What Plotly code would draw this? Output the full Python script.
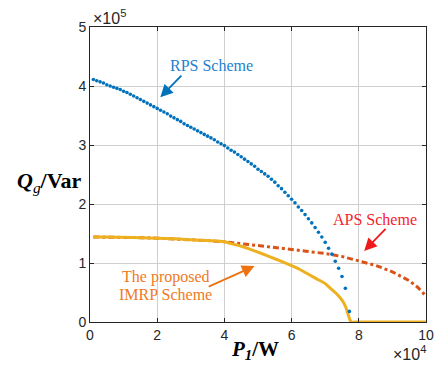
import plotly.graph_objects as go

# Scale factors shown as axis multipliers (x10^4 W, x10^5 Var)
P_SCALE = 1e4
Q_SCALE = 1e5

# RPS scheme (dotted samples), P in 1e4 W, Q in 1e5 Var
rps_p = [0.1, 0.2, 0.3, 0.4, 0.5, 0.6, 0.7, 0.8, 0.9, 1.0,
         1.1, 1.2, 1.3, 1.4, 1.5, 1.6, 1.7, 1.8, 1.9, 2.0,
         2.1, 2.2, 2.3, 2.4, 2.5, 2.6, 2.7, 2.8, 2.9, 3.0,
         3.1, 3.2, 3.3, 3.4, 3.5, 3.6, 3.7, 3.8, 3.9, 4.0,
         4.1, 4.2, 4.3, 4.4, 4.5, 4.6, 4.7, 4.8, 4.9, 5.0,
         5.1, 5.2, 5.3, 5.4, 5.5, 5.6, 5.7, 5.8, 5.9, 6.0,
         6.1, 6.2, 6.3, 6.4, 6.5, 6.6, 6.7, 6.8, 6.9, 7.0,
         7.1, 7.2, 7.3, 7.4, 7.5, 7.6, 7.72]
rps_q = [4.11, 4.09, 4.07, 4.05, 4.02, 4.00, 3.98, 3.96, 3.94, 3.91,
         3.89, 3.86, 3.83, 3.80, 3.77, 3.74, 3.71, 3.68, 3.65, 3.62,
         3.59, 3.56, 3.53, 3.49, 3.46, 3.43, 3.40, 3.36, 3.33, 3.30,
         3.27, 3.24, 3.21, 3.18, 3.15, 3.12, 3.09, 3.05, 3.02, 2.99,
         2.95, 2.91, 2.88, 2.84, 2.80, 2.76, 2.72, 2.68, 2.64, 2.59,
         2.55, 2.51, 2.47, 2.42, 2.37, 2.31, 2.26, 2.20, 2.14, 2.08,
         2.02, 1.95, 1.89, 1.82, 1.75, 1.68, 1.60, 1.52, 1.44, 1.35,
         1.25, 1.15, 1.03, 0.91, 0.77, 0.57, 0.18]

# APS scheme
aps_p = [0.1, 0.5, 1.0, 1.5, 2.0, 2.5, 3.0, 3.5, 4.0, 4.5, 5.0, 5.5,
         6.0, 6.5, 7.0, 7.5, 8.0, 8.5, 9.0, 9.25, 9.5, 9.75, 9.9, 10.0]
aps_q = [1.44, 1.44, 1.435, 1.43, 1.42, 1.41, 1.395, 1.38, 1.36, 1.33, 1.30, 1.265,
         1.23, 1.195, 1.16, 1.11, 1.04, 0.96, 0.85, 0.78, 0.70, 0.59, 0.51, 0.44]

# Proposed IMRP scheme
imrp_p = [0.1, 0.5, 1.0, 1.5, 2.0, 2.5, 3.0, 3.5, 4.0, 4.25, 4.5, 4.75,
          5.0, 5.25, 5.5, 5.75, 6.0, 6.25, 6.5, 6.75, 7.0, 7.1, 7.2, 7.3,
          7.4, 7.5, 7.6, 7.65, 7.7, 7.74, 7.78, 8.0, 10.0]
imrp_q = [1.44, 1.44, 1.435, 1.43, 1.42, 1.41, 1.395, 1.38, 1.36, 1.32, 1.285, 1.236,
          1.184, 1.13, 1.072, 1.015, 0.955, 0.89, 0.81, 0.73, 0.65, 0.60, 0.55, 0.50,
          0.44, 0.37, 0.27, 0.19, 0.10, 0.03, 0.0, 0.0, 0.0]

x_ticks = [0, 2, 4, 6, 8, 10]
y_ticks = [0, 1, 2, 3, 4, 5]

SERIF = "Liberation Serif, Times New Roman, serif"
SANS = "Liberation Sans, Arial, sans-serif"
C_RPS = "#0072BD"
C_APS = "#D95319"
C_IMRP = "#EDB120"
C_RPS_TXT = "#1f7fd0"
C_APS_TXT = "#f5222d"
C_IMRP_TXT = "#ee7a24"

fig = go.Figure()

fig.add_trace(go.Scatter(
    x=[p * P_SCALE for p in aps_p], y=[q * Q_SCALE for q in aps_q],
    mode="lines", line=dict(color=C_APS, width=3, dash="6px,3px,3px,3px"),
    showlegend=False))
fig.add_trace(go.Scatter(
    x=[p * P_SCALE for p in imrp_p], y=[q * Q_SCALE for q in imrp_q],
    mode="lines", line=dict(color=C_IMRP, width=3, shape="spline", smoothing=0.6),
    showlegend=False))
fig.add_trace(go.Scatter(
    x=[p * P_SCALE for p in rps_p], y=[q * Q_SCALE for q in rps_q],
    mode="markers", marker=dict(color=C_RPS, size=3.6, symbol="circle",
                                line=dict(width=0)),
    showlegend=False))

axis_common = dict(
    showgrid=True, gridcolor="#cfcfcf", gridwidth=1,
    showline=True, linecolor="#262626", linewidth=1, mirror="ticks",
    ticks="inside", ticklen=4, tickcolor="#262626",
    tickfont=dict(family=SANS, size=14, color="#262626"),
    zeroline=False,
)
fig.update_xaxes(range=[0, 10 * P_SCALE],
                 tickvals=[v * P_SCALE for v in x_ticks],
                 ticktext=[str(v) for v in x_ticks], **axis_common)
fig.update_yaxes(range=[0, 5 * Q_SCALE],
                 tickvals=[v * Q_SCALE for v in y_ticks],
                 ticktext=[str(v) for v in y_ticks], **axis_common)

ann = []
# Axis titles
ann.append(dict(xref="paper", yref="paper", x=-0.018, y=0.476, xanchor="right", yanchor="middle",
                text="<b><i>Q</i></b><sub><i>g</i></sub><b>/Var</b>", showarrow=False,
                font=dict(family=SERIF, size=22, color="black")))
ann.append(dict(xref="paper", yref="paper", x=0.49, y=-0.095, xanchor="center", yanchor="middle",
                text="<b><i>P</i></b><sub><b><i>1</i></b></sub><b>/W</b>", showarrow=False,
                font=dict(family=SERIF, size=21, color="black")))
# Axis multipliers
ann.append(dict(xref="paper", yref="paper", x=0.003, y=1.035, xanchor="left", yanchor="middle",
                text="\u00d710<sup>5</sup>", showarrow=False,
                font=dict(family=SANS, size=16, color="#262626")))
ann.append(dict(xref="paper", yref="paper", x=1.006, y=-0.105, xanchor="right", yanchor="middle",
                text="\u00d710<sup>4</sup>", showarrow=False,
                font=dict(family=SANS, size=16, color="#262626")))

# Scheme labels
ann.append(dict(x=3.62 * P_SCALE, y=4.34 * Q_SCALE, text="RPS Scheme", showarrow=False,
                font=dict(family=SERIF, size=16, color=C_RPS_TXT)))
ann.append(dict(x=8.49 * P_SCALE, y=1.74 * Q_SCALE, text="APS Scheme", showarrow=False,
                font=dict(family=SERIF, size=16, color=C_APS_TXT)))
ann.append(dict(x=2.26 * P_SCALE, y=0.768 * Q_SCALE, text="The proposed", showarrow=False,
                font=dict(family=SERIF, size=16, color=C_IMRP_TXT)))
ann.append(dict(x=2.24 * P_SCALE, y=0.47 * Q_SCALE, text="IMRP Scheme", showarrow=False,
                font=dict(family=SERIF, size=16, color=C_IMRP_TXT)))

# Pointer arrows (tip, tail)
arrows = [
    ((2.093, 3.808), (2.762, 4.203), C_RPS),
    ((8.16, 1.203), (8.84, 1.605), "#f01a1a"),
    ((4.898, 0.949), (3.488, 0.588), "#ee7212"),
]
for (tx, ty), (sx, sy), col in arrows:
    ann.append(dict(x=tx * P_SCALE, y=ty * Q_SCALE, ax=sx * P_SCALE, ay=sy * Q_SCALE,
                    xref="x", yref="y", axref="x", ayref="y", text="",
                    showarrow=True, arrowhead=2, arrowsize=1.4, arrowwidth=1.8,
                    arrowcolor=col, standoff=0, startstandoff=0))

fig.update_layout(
    width=444, height=372,
    margin=dict(l=90, r=10, t=27, b=50),
    paper_bgcolor="white", plot_bgcolor="white",
    annotations=ann,
    showlegend=False,
)

fig.write_html("out.html")
